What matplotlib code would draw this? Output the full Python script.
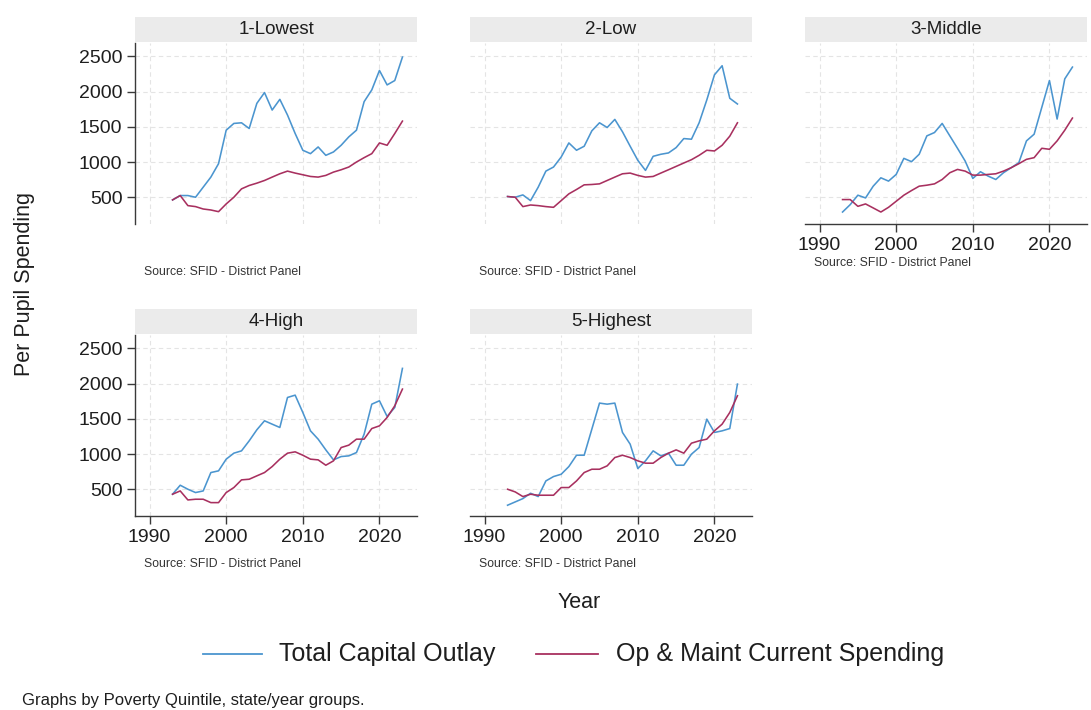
import matplotlib
matplotlib.use("Agg")
import matplotlib.pyplot as plt

plt.rcParams['font.family'] = ['Liberation Sans', 'DejaVu Sans']

years = list(range(1993, 2024))
panel_titles = ["1-Lowest", "2-Low", "3-Middle", "4-High", "5-Highest"]

capital_1 = [462, 524, 524, 500, 643, 786, 976, 1452, 1548, 1557, 1476, 1833, 1986, 1738, 1890, 1667,
             1405, 1167, 1119, 1214, 1095, 1143, 1238, 1357, 1452, 1857, 2024, 2300, 2095, 2157, 2490]
opmaint_1 = [462, 524, 381, 367, 333, 319, 295, 405, 500, 619, 667, 700, 738, 786, 833, 871,
             843, 819, 795, 786, 810, 857, 890, 929, 1000, 1062, 1119, 1271, 1238, 1405, 1581]

capital_2 = [510, 500, 533, 452, 643, 871, 929, 1071, 1271, 1167, 1224, 1443, 1557, 1490, 1605, 1429,
             1224, 1024, 881, 1081, 1110, 1129, 1205, 1333, 1324, 1557, 1881, 2238, 2367, 1905, 1824]
opmaint_2 = [510, 500, 367, 390, 381, 367, 357, 452, 548, 610, 676, 681, 690, 738, 786, 833,
             843, 810, 786, 795, 843, 890, 938, 986, 1033, 1095, 1167, 1157, 1238, 1367, 1557]

capital_3 = [290, 395, 529, 490, 657, 776, 729, 824, 1052, 1005, 1110, 1371, 1419, 1548, 1371, 1195,
             1014, 767, 862, 800, 752, 848, 919, 990, 1300, 1395, 1776, 2157, 1610, 2181, 2348]
opmaint_3 = [467, 467, 371, 405, 348, 290, 357, 443, 529, 595, 657, 671, 690, 752, 848, 895,
             871, 814, 814, 824, 833, 871, 919, 976, 1038, 1062, 1195, 1181, 1300, 1452, 1624]

capital_4 = [429, 557, 500, 453, 476, 737, 761, 927, 1012, 1045, 1187, 1344, 1472, 1424, 1377, 1803,
             1836, 1590, 1329, 1211, 1059, 917, 964, 974, 1021, 1282, 1708, 1756, 1533, 1661, 2216]
opmaint_4 = [429, 476, 348, 358, 358, 310, 310, 453, 524, 633, 642, 690, 737, 822, 927, 1012,
             1031, 983, 927, 917, 841, 903, 1092, 1126, 1211, 1211, 1362, 1400, 1519, 1685, 1922]

capital_5 = [273, 320, 367, 443, 396, 618, 680, 713, 822, 983, 983, 1353, 1723, 1708, 1723, 1306,
             1140, 794, 903, 1045, 974, 1012, 841, 841, 998, 1092, 1495, 1306, 1329, 1362, 1993]
opmaint_5 = [500, 462, 396, 429, 415, 415, 415, 524, 524, 618, 737, 784, 784, 832, 950, 983,
             950, 903, 870, 870, 950, 1012, 1059, 1012, 1154, 1187, 1211, 1329, 1424, 1590, 1827]

capital = [capital_1, capital_2, capital_3, capital_4, capital_5]
opmaint = [opmaint_1, opmaint_2, opmaint_3, opmaint_4, opmaint_5]

y_ticks = [500, 1000, 1500, 2000, 2500]
x_ticks = [1990, 2000, 2010, 2020]
series_labels = ["Total Capital Outlay", "Op & Maint Current Spending"]
source_note = "Source: SFID - District Panel"

BLUE = "#4b95cf"
RED = "#a8305f"
AX = "#3a3a3a"
TXT = "#1e1e1e"

W, H = 1091, 710
fig = plt.figure(figsize=(W / 100, H / 100), dpi=100)
fig.patch.set_facecolor("white")

def fx(px):
    return px / W

def fy(py):
    return 1 - py / H

col_left = [135, 470, 805]
pw = 282
row_top = [43, 335]
ph = 181
hdr_h = 25
positions = [(0, 0), (0, 1), (0, 2), (1, 0), (1, 1)]

for i, (r, c) in enumerate(positions):
    left = col_left[c]
    top = row_top[r]
    ax = fig.add_axes([fx(left), fy(top + ph), fx(pw), ph / H])
    ax.plot(years, capital[i], color=BLUE, lw=1.15, zorder=3)
    ax.plot(years, opmaint[i], color=RED, lw=1.15, zorder=3)
    ax.set_xlim(1988.1, 2024.9)
    ax.set_ylim(120, 2690)
    ax.set_yticks(y_ticks)
    ax.set_xticks(x_ticks)
    ax.grid(True, color="#e4e4e4", lw=0.8, ls=(0, (4, 3)), zorder=0)
    for s in ax.spines.values():
        s.set_visible(False)
    show_y = (c == 0)
    show_x = (r == 1) or (i == 2)
    if show_y:
        ax.spines["left"].set_visible(True)
        ax.spines["left"].set_color(AX)
        ax.spines["left"].set_linewidth(1.0)
    if show_x:
        ax.spines["bottom"].set_visible(True)
        ax.spines["bottom"].set_color(AX)
        ax.spines["bottom"].set_linewidth(1.0)
    ax.tick_params(axis="y", left=show_y, labelleft=show_y, length=6, width=1.0,
                   color=AX, labelsize=14, labelcolor=TXT, pad=3)
    ax.tick_params(axis="x", bottom=show_x, labelbottom=show_x, length=6, width=1.0,
                   color=AX, labelsize=14, labelcolor=TXT, pad=3)
    # header strip
    hax = fig.add_axes([fx(left), fy(top - 1), fx(pw), hdr_h / H])
    hax.set_facecolor("#ebebeb")
    hax.set_xticks([])
    hax.set_yticks([])
    for s in hax.spines.values():
        s.set_visible(False)
    hax.text(0.5, 0.5, panel_titles[i], ha="center", va="center", fontsize=13.5,
             color=TXT, transform=hax.transAxes)
    # source note
    src_y = top + ph + (39 if i == 2 else 48)
    fig.text(fx(left + 9), fy(src_y), source_note, fontsize=8.8, color="#333333",
             ha="left", va="center")

fig.text(fx(25), fy(284), "Per Pupil Spending", rotation=90, ha="center", va="center",
         fontsize=15.5, color=TXT)
fig.text(fx(579), fy(603), "Year", ha="center", va="center", fontsize=15.5, color=TXT)

# legend
leg_y = fy(654)
fig.lines.append(plt.Line2D([fx(203), fx(262)], [leg_y, leg_y], color=BLUE, lw=1.3,
                            transform=fig.transFigure))
fig.text(fx(279), leg_y, series_labels[0], ha="left", va="center", fontsize=18, color=TXT)
fig.lines.append(plt.Line2D([fx(536), fx(598)], [leg_y, leg_y], color=RED, lw=1.3,
                            transform=fig.transFigure))
fig.text(fx(616), leg_y, series_labels[1], ha="left", va="center", fontsize=18, color=TXT)

fig.text(fx(22), fy(700), "Graphs by Poverty Quintile, state/year groups.", ha="left",
         va="center", fontsize=12, color=TXT)

fig.savefig("out.png", dpi=100, facecolor="white")
